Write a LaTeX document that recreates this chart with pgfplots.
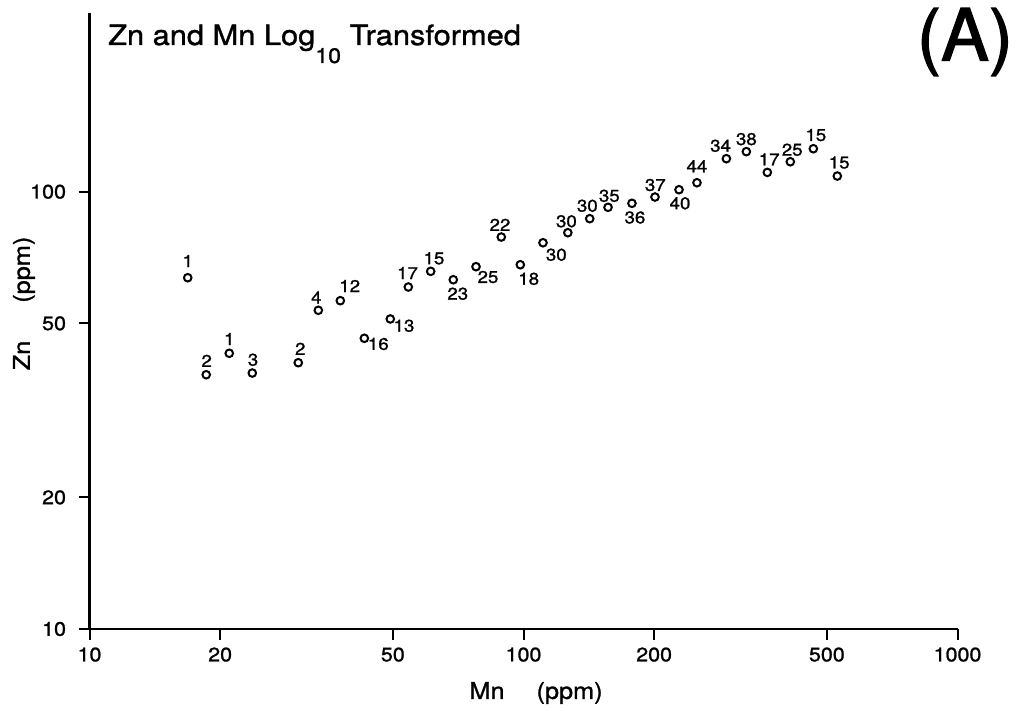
\documentclass[border=0pt]{standalone}
\usepackage{fontspec}
\setmainfont[FakeStretch=1.1, FakeBold=1.2]{TeX Gyre Heros}
\newfontfamily\bigfont[FakeBold=1.8]{TeX Gyre Heros}
\usepackage{pgfplots}
\usepackage{pgfplotstable}
\pgfplotsset{compat=1.18}
\pgfplotstableread{
x y lab dx dy
16.84 63.58 1 0 16.7
18.58 38.15 2 0.4 13.9
20.99 42.71 1 0 14.3
23.72 38.49 3 0.7 13.3
30.27 40.64 2 2 13.9
33.67 53.56 4 -2 12.8
37.84 56.34 12 9.4 14.7
42.98 46.22 16 14 -5.7
49.32 51.17 13 13.7 -6.8
54.27 60.54 17 -0.8 14
61.12 65.76 15 3.3 13
68.90 62.91 23 4.5 -14
77.74 67.38 25 12 -10.3
88.88 78.78 22 -1.3 12.2
98.32 68.09 18 8.4 -14.1
110.9 76.45 30 13.3 -12
126.5 80.58 30 -1.4 11.4
142.1 86.77 30 -2.4 12.9
156.6 92.12 35 1.3 11.5
177.8 94.08 36 3 -14.2
200.9 97.25 37 0.3 12
228.2 101.06 40 1 -13.6
251.0 104.85 44 0 16.5
293.4 119.0 34 -5.8 12.9
326.2 123.5 38 0 12.5
364.6 110.7 17 1.9 13.1
411.9 117.1 25 1.9 12
465.4 125.4 15 2.5 13.7
528.5 108.6 15 1.9 13.5
}\datatable
\begin{document}
\begin{tikzpicture}
\path (0,0) rectangle (1023pt,708pt);
\begin{axis}[
  at={(89.5pt,79pt)}, anchor=south west,
  scale only axis, width=868pt, height=615.7pt,
  xmode=log, ymode=log,
  xmin=10, xmax=1000, ymin=10, ymax=255.9,
  axis x line*=bottom, axis y line*=left,
  axis line style={line width=2.6pt, -},
  xtick={10,20,50,100,200,500,1000},
  xticklabels={10,20,50,100,200,500,1000},
  ytick={10,20,50,100},
  yticklabels={10,20,50,100},
  minor xtick={}, minor ytick={},
  tick align=outside,
  major tick length=11pt,
  every tick/.style={line width=2pt, black},
  tick label style={font=\fontsize{19.5}{20}\selectfont},
  xticklabel style={yshift=-4pt},
  yticklabel style={xshift=-9pt},
  /pgf/number format/assume math mode=true,
  clip=false,
  xlabel={Mn\hspace{32pt}(ppm)},
  ylabel={Zn\hspace{38pt}(ppm)},
  label style={font=\fontsize{23}{24}\selectfont},
  xlabel style={at={(axis description cs:0.5144,-0.104)}, anchor=center},
  ylabel style={at={(axis description cs:-0.0755,0.5287)}, anchor=center},
]
\addplot[only marks, mark=o, mark size=3.8pt,
  mark options={line width=2pt, black},
  point meta=explicit symbolic,
  visualization depends on={\thisrow{dx}\as\myDx},
  visualization depends on={\thisrow{dy}\as\myDy},
  nodes near coords,
  every node near coord/.append style={anchor=center, xshift=\myDx pt, yshift=\myDy pt,
     font=\fontsize{17}{17}\selectfont, inner sep=0pt}]
  table[x=x, y=y, meta=lab]{\datatable};
\node[anchor=base west, inner sep=0pt, font=\fontsize{28}{29}\selectfont]
  at (axis description cs:0.0213,0.9485)
  {Zn and Mn Log\raisebox{-18pt}{\fontsize{21}{21}\selectfont 10} Transformed};
\node[inner sep=0pt, font=\fontsize{72}{72}\bigfont]
  at (axis description cs:1.0086,0.9534) {(A)};
\end{axis}
\end{tikzpicture}
\end{document}
